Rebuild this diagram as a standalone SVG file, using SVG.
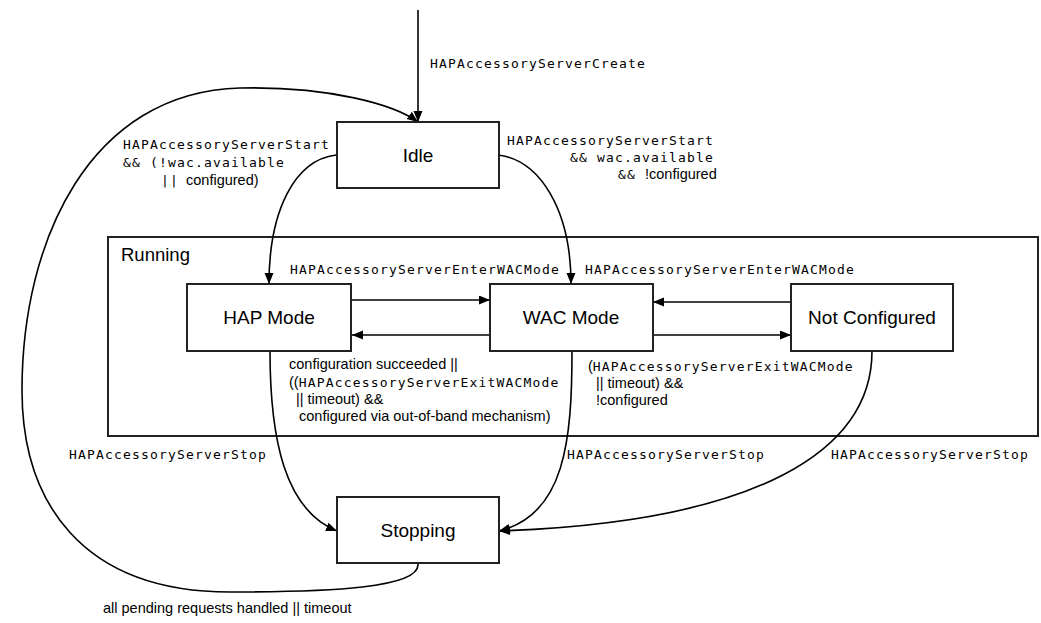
<svg xmlns="http://www.w3.org/2000/svg" width="1041" height="623" viewBox="0 0 1041 623">
<style>
.box{fill:#fff;stroke:#222;stroke-width:2}
.frame{fill:none;stroke:#222;stroke-width:2}
.edge{fill:none;stroke:#000;stroke-width:1.6}
.node{font-family:"Liberation Sans",Arial,sans-serif;font-size:19px;fill:#000;text-anchor:middle}
.mono{font-family:"DejaVu Sans Mono",monospace;font-size:13px;letter-spacing:1.17px;fill:#000}
.sans{font-family:"Liberation Sans",Arial,sans-serif;font-size:14.5px;fill:#000}
</style>
<defs>
<marker id="ah" markerUnits="userSpaceOnUse" markerWidth="12" markerHeight="10" refX="11" refY="4.5" orient="auto">
<path d="M0,0 L11,4.5 L0,9 z" fill="#000"/>
</marker>
</defs>
<rect width="1041" height="623" fill="#fff"/>
<g id="running">
<rect class="frame" x="108" y="237" width="930" height="199"/>
<text class="node" x="121" y="261" style="text-anchor:start;font-size:18.5px">Running</text>
</g>
<g id="connectors">
<path class="edge" d="M418,10 L418,122" marker-end="url(#ah)"/>
<path class="edge" d="M418,564 C420,588 330,592 230,592 C80,592 22,500 22,390 C22,240 90,92 240,88 C330,86 395,105 418,122" marker-end="url(#ah)"/>
<path class="edge" d="M336,155 C295,160 269,210 269,284" marker-end="url(#ah)"/>
<path class="edge" d="M498,155 C540,160 571,210 571,284" marker-end="url(#ah)"/>
<path class="edge" d="M352,300 L490,300" marker-end="url(#ah)"/>
<path class="edge" d="M490,335 L352,335" marker-end="url(#ah)"/>
<path class="edge" d="M791,302 L653,302" marker-end="url(#ah)"/>
<path class="edge" d="M653,335 L791,335" marker-end="url(#ah)"/>
<path class="edge" d="M270,351 C270,440 285,510 337,531" marker-end="url(#ah)"/>
<path class="edge" d="M572,351 C572,440 565,515 499,531" marker-end="url(#ah)"/>
<path class="edge" d="M872,351 C872,450 760,522 499,531" marker-end="url(#ah)"/>
</g>
<g id="idle">
<rect class="box" x="337" y="122" width="162" height="66"/>
<text class="node" x="418" y="162">Idle</text>
</g>
<g id="hap-mode">
<rect class="box" x="187" y="284" width="164" height="67"/>
<text class="node" x="269" y="324">HAP Mode</text>
</g>
<g id="wac-mode">
<rect class="box" x="490" y="284" width="163" height="67"/>
<text class="node" x="571" y="324">WAC Mode</text>
</g>
<g id="not-configured">
<rect class="box" x="791" y="284" width="162" height="67"/>
<text class="node" x="872" y="324">Not Configured</text>
</g>
<g id="stopping">
<rect class="box" x="337" y="497" width="162" height="66"/>
<text class="node" x="418" y="537">Stopping</text>
</g>
<g id="labels">
<text class="mono" x="430" y="68">HAPAccessoryServerCreate</text>
<text class="mono" x="123" y="149">HAPAccessoryServerStart</text>
<text class="mono" x="123" y="167">&amp;&amp; (!wac.available</text>
<text class="mono" x="161" y="185">||<tspan class="sans" x="186" style="letter-spacing:0">configured)</tspan></text>
<text class="mono" x="507" y="145">HAPAccessoryServerStart</text>
<text class="mono" x="570" y="162">&amp;&amp; wac.available</text>
<text class="mono" x="618" y="179">&amp;&amp;<tspan class="sans" x="645" style="letter-spacing:0">!configured</tspan></text>
<text class="mono" x="290" y="274">HAPAccessoryServerEnterWACMode</text>
<text class="mono" x="585" y="274">HAPAccessoryServerEnterWACMode</text>
<text class="sans" x="289" y="369">configuration succeeded ||</text>
<text class="sans" x="289" y="387">((<tspan class="mono">HAPAccessoryServerExitWACMode</tspan></text>
<text class="sans" x="296" y="404">|| timeout) &amp;&amp;</text>
<text class="sans" x="299" y="421">configured via out-of-band mechanism)</text>
<text class="sans" x="588" y="371">(<tspan class="mono">HAPAccessoryServerExitWACMode</tspan></text>
<text class="sans" x="596" y="388">|| timeout) &amp;&amp;</text>
<text class="sans" x="596" y="405">!configured</text>
<text class="mono" x="69" y="459">HAPAccessoryServerStop</text>
<text class="mono" x="567" y="459">HAPAccessoryServerStop</text>
<text class="mono" x="831" y="459">HAPAccessoryServerStop</text>
<text class="sans" x="103" y="613">all pending requests handled || timeout</text>
</g>
</svg>
